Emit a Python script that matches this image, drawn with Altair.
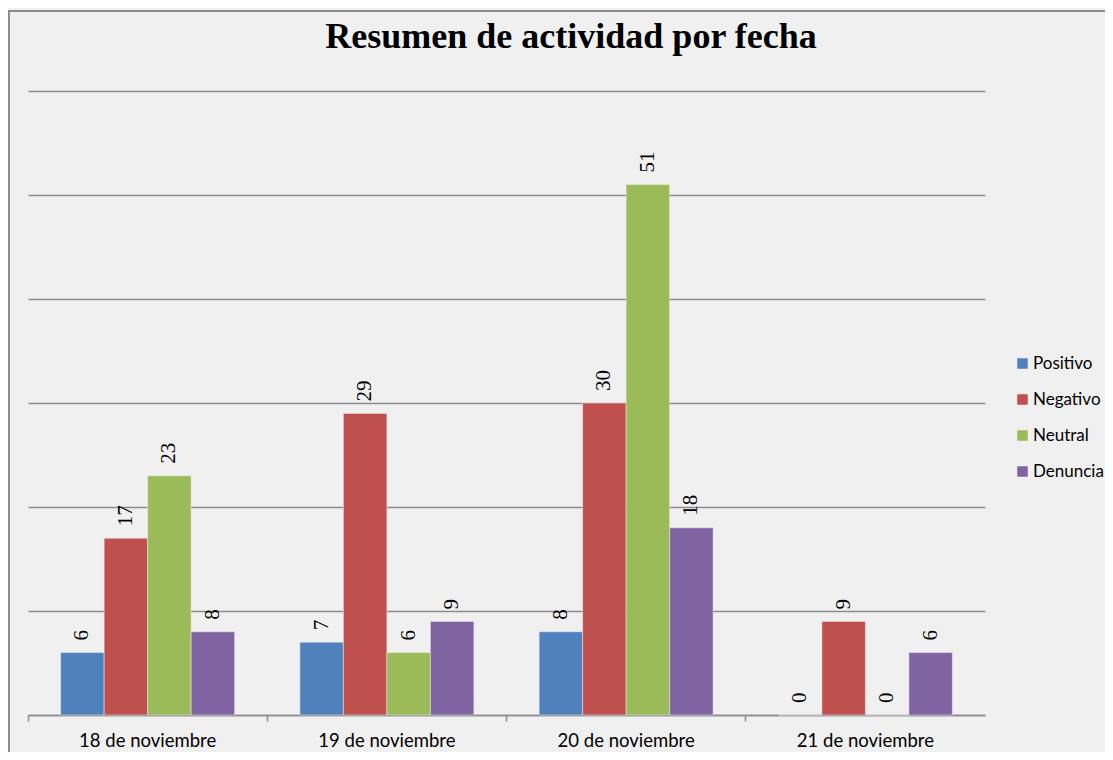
import altair as alt
import pandas as pd

fechas = ["18 de noviembre", "19 de noviembre", "20 de noviembre", "21 de noviembre"]
series = ["Positivo", "Negativo", "Neutral", "Denuncia"]
positivo = [6, 7, 8, 0]
negativo = [17, 29, 30, 9]
neutral = [23, 6, 51, 0]
denuncia = [8, 9, 18, 6]
colores = ["#4f81bd", "#c0504d", "#9bbb59", "#8064a2"]
titulo = "Resumen de actividad por fecha"

rows = []
for s, vals in zip(series, [positivo, negativo, neutral, denuncia]):
    for f, v in zip(fechas, vals):
        rows.append({"fecha": f, "serie": s, "valor": v})
df = pd.DataFrame(rows)

x = alt.X("fecha:N", sort=fechas, title=None,
          scale=alt.Scale(paddingInner=0, paddingOuter=0),
          axis=alt.Axis(labelAngle=0, labelFont="Lato", labelFontSize=18.5,
                        labelColor="#000000", labelPadding=10,
                        domainColor="#8c8c8c", domainWidth=1.5,
                        tickColor="#8c8c8c", tickWidth=1.5, tickSize=6,
                        bandPosition=0, grid=False))
xo = alt.XOffset("serie:N", sort=series,
                 scale=alt.Scale(paddingInner=0, paddingOuter=0.75))
y = alt.Y("valor:Q", title=None,
          scale=alt.Scale(domain=[0, 60], nice=False),
          axis=alt.Axis(values=[0, 10, 20, 30, 40, 50, 60], labels=False,
                        ticks=False, domain=False, grid=True,
                        gridColor="#8c8c8c", gridWidth=1.5))
color = alt.Color("serie:N", sort=series,
                  scale=alt.Scale(domain=series, range=colores),
                  legend=alt.Legend(title=None, orient="none", legendX=986,
                                    legendY=264, symbolType="square",
                                    symbolSize=110, symbolStrokeWidth=0,
                                    labelFont="Lato", labelFontSize=17,
                                    labelColor="#000000", rowPadding=18,
                                    labelOffset=2))

bars = alt.Chart(df).mark_bar(stroke="#f0f0f0", strokeWidth=0.5).encode(
    x=x, xOffset=xo, y=y, color=color)

labels = alt.Chart(df).mark_text(
    angle=270, align="left", baseline="middle", dx=12,
    font="Liberation Serif", fontSize=21, color="#000000").encode(
    x=alt.X("fecha:N", sort=fechas), xOffset=alt.XOffset("serie:N", sort=series),
    y="valor:Q", text="valor:Q")

frame = alt.Chart(df).mark_rect(fill=None, stroke="#8c8c8c", strokeWidth=1.5,
                                clip=False).encode(
    x=alt.value(-19), x2=alt.value(1100), y=alt.value(-80), y2=alt.value(700))

title = alt.Chart(pd.DataFrame({"t": [titulo]})).mark_text(
    font="Liberation Serif", fontSize=36, fontWeight="bold", color="#000000",
    align="center", baseline="alphabetic").encode(
    x=alt.value(543), y=alt.value(-43), text="t:N")

chart = alt.layer(frame, bars, labels, title).properties(
    width=957, height=624,
    autosize=alt.AutoSizeParams(type="none"),
    padding={"left": 20, "top": 83, "right": 120, "bottom": 37},
    background="#f0f0f0",
).configure_view(stroke=None)

chart.save("out.html", embed_options={"renderer": "svg", "actions": False})
